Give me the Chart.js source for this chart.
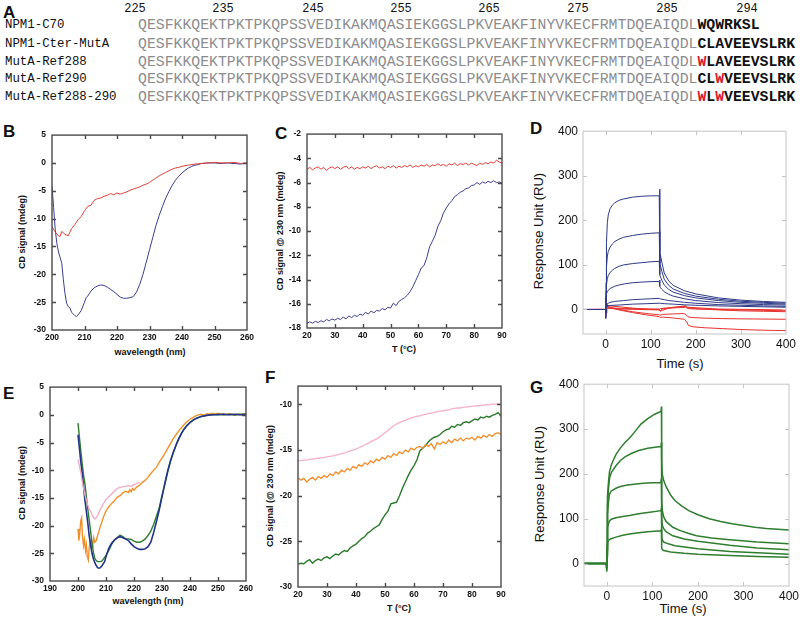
<!DOCTYPE html>
<html>
<head>
<meta charset="utf-8">
<script src="https://cdn.jsdelivr.net/npm/chart.js@4.4.1/dist/chart.umd.min.js"></script>
<style>
body { margin: 0; background: #fff; }
#fig { position: relative; width: 800px; height: 617px; overflow: hidden; font-family: 'Liberation Sans', Arial, sans-serif; color: #111; }
#fig canvas { position: absolute; }
.t { position: absolute; white-space: nowrap; line-height: 1; transform: translate(-50%, -50%); }
.rot { transform: translate(-50%, -50%) rotate(-90deg); }
.letter { position: absolute; font-weight: bold; font-size: 17px; line-height: 1; transform: translateY(-50%); }
.mono { font-family: 'Liberation Mono', 'DejaVu Sans Mono', monospace; }
.seq { position: absolute; white-space: nowrap; line-height: 1; transform: translateY(-50%); font-size: 14.8px; color: #8c8c8c; }
.tail { color: #111; font-weight: bold; }
.red { color: #d42030; }
</style>
</head>
<body>
<div id="fig"></div>
<script>
// ---- Panel A: sequence alignment ----
const seqNumbers = ['225', '235', '245', '255', '265', '275', '285', '294'];
const seqNames = ['NPM1-C70', 'NPM1-Cter-MutA', 'MutA-Ref288', 'MutA-Ref290', 'MutA-Ref288-290'];
const seqCore = 'QESFKKQEKTPKTPKQPSSVEDIKAKMQASIEKGGSLPKVEAKFINYVKECFRMTDQEAIQDL';
const seqTails = ['WQWRKSL', 'CLAVEEVSLRK', 'WLAVEEVSLRK', 'CLWVEEVSLRK', 'WLWVEEVSLRK'];
const seqRed = [[], [], [0], [2], [0, 2]];

// ---- Panel B: CD spectra ----
const bXTicks = [200, 210, 220, 230, 240, 250, 260];
const bYTicks = [-30, -25, -20, -15, -10, -5, 0, 5];
const bRed = [[200,-11.5],[201,-12.4],[202,-13.1],[202.5,-13.2],[203,-12.3],[204,-12.8],[205,-13.1],[206,-11.8],[207,-11.1],[208,-10.2],[209,-9.6],[210,-8.6],[211,-7.8],[212,-7.6],[213,-6.7],[214,-6.4],[215,-6.3],[216,-6.0],[217,-5.8],[218,-5.5],[219,-5.7],[220,-5.4],[221,-5.6],[222,-5.4],[223,-5.2],[224,-4.9],[225,-4.7],[226,-4.5],[227,-4.3],[228,-4.0],[229,-3.8],[230,-3.5],[231,-3.1],[232,-2.7],[233,-2.3],[234,-2.0],[235,-1.7],[236,-1.4],[237,-1.1],[238,-0.9],[239,-0.8],[240,-0.6],[242,-0.4],[244,-0.2],[246,-0.1],[248,0],[250,0.1],[252,0],[254,0],[256,0.1],[258,-0.1],[260,0]];
const bBlue = [[200,-4.2],[200.5,-8],[201,-12],[201.5,-14.5],[202,-16],[203,-18],[203.5,-21],[204,-23.5],[204.5,-25.2],[205,-25.8],[205.5,-26],[206,-26.8],[207,-27.4],[207.5,-27.6],[208,-27.3],[209,-26.5],[210,-25],[210.5,-24.2],[211,-23.9],[212,-23],[213,-22.4],[214,-22.1],[215,-21.9],[216,-22],[217,-22.3],[218,-22.7],[219,-23.1],[220,-23.6],[221,-24.1],[222,-24.3],[223,-24.3],[224,-24.2],[225,-24],[226,-23.2],[227,-21.8],[228,-20],[229,-17.8],[230,-15.6],[231,-13.4],[232,-11.2],[233,-9.4],[234,-7.8],[235,-6.3],[236,-5.1],[237,-4],[238,-3.1],[239,-2.4],[240,-1.8],[241,-1.3],[242,-0.9],[243,-0.6],[244,-0.4],[245,-0.3],[246,-0.1],[248,0],[250,0],[252,-0.1],[254,0],[256,-0.1],[258,-0.2],[260,0]];

// ---- Panels C and F: thermal melts ----
const tempC = [20,21,22,23,24,25,26,27,28,29,30,31,32,33,34,35,36,37,38,39,40,41,42,43,44,45,46,47,48,49,50,51,52,53,54,55,56,57,58,59,60,61,62,63,64,65,66,67,68,69,70,71,72,73,74,75,76,77,78,79,80,81,82,83,84,85,86,87,88,89,90];
const cXTicks = [20, 30, 40, 50, 60, 70, 80, 90];
const cYTicks = [-18, -16, -14, -12, -10, -8, -6, -4, -2];
const cRed = [-4.9,-4.75,-4.95,-4.8,-4.7,-4.9,-4.75,-5.0,-4.8,-4.7,
  -4.85,-4.7,-4.9,-4.75,-4.65,-4.85,-4.7,-4.9,-4.75,-4.85,
  -4.7,-4.8,-4.65,-4.85,-4.7,-4.6,-4.8,-4.7,-4.85,-4.65,
  -4.75,-4.6,-4.8,-4.65,-4.75,-4.6,-4.7,-4.55,-4.75,-4.6,
  -4.7,-4.55,-4.65,-4.5,-4.7,-4.55,-4.6,-4.45,-4.6,-4.5,
  -4.65,-4.45,-4.55,-4.4,-4.6,-4.45,-4.5,-4.4,-4.55,-4.4,
  -4.5,-4.6,-4.4,-4.5,-4.35,-4.45,-4.3,-4.4,-4.15,-4.3,
  -4.4];
const cBlue = [-17.6,-17.5,-17.6,-17.45,-17.55,-17.4,-17.5,-17.3,-17.4,-17.25,
  -17.35,-17.2,-17.3,-17.1,-17.25,-17.0,-17.15,-16.95,-17.05,-16.85,
  -16.95,-16.7,-16.85,-16.6,-16.75,-16.55,-16.6,-16.4,-16.5,-16.3,
  -16.35,-15.95,-16.15,-15.8,-15.65,-15.5,-15.3,-15.0,-14.6,-14.1,
  -13.6,-13.05,-12.85,-12.2,-11.3,-10.85,-10.35,-9.6,-9.15,-8.5,
  -8.1,-7.75,-7.5,-7.15,-7.0,-6.8,-6.7,-6.5,-6.45,-6.25,
  -6.2,-6.0,-6.15,-5.95,-6.05,-5.9,-6.0,-5.85,-6.0,-5.95,
  -6.05];
const fXTicks = [20, 30, 40, 50, 60, 70, 80, 90];
const fYTicks = [-30, -25, -20, -15, -10];
const fPink = [-16.2,-16.15,-16.1,-16.1,-16.0,-16.0,-15.95,-15.9,-15.85,-15.8,
  -15.75,-15.7,-15.65,-15.55,-15.5,-15.4,-15.35,-15.2,-15.1,-15.0,
  -14.9,-14.75,-14.6,-14.45,-14.3,-14.1,-13.95,-13.8,-13.6,-13.35,
  -13.1,-12.85,-12.6,-12.35,-12.15,-12.0,-11.85,-11.75,-11.6,-11.5,
  -11.4,-11.3,-11.25,-11.15,-11.1,-11.0,-10.95,-10.9,-10.8,-10.75,
  -10.7,-10.65,-10.6,-10.5,-10.45,-10.4,-10.4,-10.3,-10.3,-10.25,
  -10.2,-10.2,-10.15,-10.1,-10.1,-10.0,-10.05,-9.95,-10.0,-9.95,
  -10.0];
const fOrange = [-18.0,-18.3,-18.1,-18.5,-18.2,-18.0,-18.3,-17.9,-18.1,-17.8,
  -18.0,-17.6,-17.8,-17.4,-17.6,-17.2,-17.4,-17.0,-17.2,-16.8,
  -17.0,-16.6,-16.8,-16.4,-16.6,-16.2,-16.4,-16.0,-16.2,-15.8,
  -16.0,-15.6,-15.8,-15.4,-15.6,-15.2,-15.4,-15.0,-15.2,-14.8,
  -15.0,-14.7,-14.6,-14.8,-14.4,-14.6,-14.3,-14.9,-14.2,-14.4,
  -14.1,-14.3,-13.9,-14.2,-13.8,-14.0,-13.7,-14.0,-13.7,-13.8,
  -13.6,-13.9,-13.5,-13.7,-13.4,-13.6,-13.3,-13.5,-13.2,-13.1,
  -13.3];
const fGreen = [-27.5,-27.4,-27.45,-27.2,-27.0,-27.4,-27.1,-26.95,-27.1,-26.8,
  -26.7,-26.9,-26.6,-26.4,-26.5,-26.2,-26.0,-26.1,-25.7,-25.5,
  -25.3,-25.0,-24.7,-24.5,-24.1,-23.9,-23.6,-23.4,-23.2,-22.6,
  -22.1,-21.7,-20.9,-20.8,-20.7,-20.0,-19.2,-18.5,-17.8,-17.2,
  -16.7,-16.1,-15.1,-14.8,-14.5,-14.1,-13.8,-13.6,-13.5,-13.3,
  -13.0,-12.8,-12.7,-12.4,-12.5,-12.2,-12.3,-12.0,-11.9,-12.0,
  -11.8,-11.6,-11.7,-11.4,-11.5,-11.3,-11.4,-11.2,-11.1,-10.9,
  -11.3];

// ---- Panel E: CD spectra of mutants ----
const eXTicks = [190, 200, 210, 220, 230, 240, 250, 260];
const eYTicks = [-30, -25, -20, -15, -10, -5, 0, 5];
const eBlue = [[200,-3.6],[200.5,-6],[201,-8.5],[201.5,-10.5],[202,-13],[202.5,-15.5],[203,-17.5],[203.5,-19.5],[204,-21.8],[204.5,-23.5],[205,-25],[205.5,-26],[206,-26.7],[206.5,-27.2],[207,-27.6],[207.5,-27.7],[208,-27.6],[208.5,-27.3],[209,-26.9],[209.5,-26.5],[210,-25.6],[210.5,-24.8],[211,-24.1],[211.5,-23.6],[212,-23.2],[213,-22.6],[214,-22.2],[215,-22.0],[216,-22.2],[217,-22.4],[218,-22.7],[219,-23.3],[220,-23.8],[221,-24.1],[222,-24.3],[223,-24.3],[224,-24.2],[225,-23.8],[226,-23.0],[227,-21.3],[228,-19.3],[229,-17.2],[230,-14.8],[231,-12.4],[232,-10.2],[233,-8.4],[234,-6.8],[235,-5.5],[236,-4.3],[237,-3.3],[238,-2.5],[239,-1.9],[240,-1.4],[241,-1.0],[242,-0.7],[243,-0.5],[244,-0.3],[246,-0.1],[248,0],[250,0],[252,0.1],[254,0],[256,0.1],[258,0],[260,0.1]];
const eGreen = [[200,-1.5],[200.5,-4],[201,-6.5],[201.5,-8.8],[202,-11],[202.5,-12.5],[203,-14.8],[203.5,-17],[204,-19],[204.5,-21],[205,-23.2],[205.5,-24.8],[206,-25.9],[206.5,-26.3],[207,-26.5],[208,-26.5],[208.5,-26.4],[209,-26.1],[210,-25.4],[211,-24.5],[212,-23.4],[213,-22.6],[214,-22.2],[215,-21.7],[216,-22.0],[217,-22.4],[218,-22.4],[219,-22.5],[220,-22.8],[221,-23.0],[222,-23.0],[223,-22.8],[224,-22.4],[225,-21.8],[226,-21.0],[227,-19.8],[228,-18.3],[229,-16.8],[230,-14.6],[231,-12.6],[232,-10.4],[233,-8.4],[234,-6.9],[235,-5.5],[236,-4.3],[237,-3.3],[238,-2.5],[239,-1.9],[240,-1.4],[241,-1.0],[242,-0.7],[243,-0.5],[244,-0.3],[246,-0.1],[248,0],[250,0.1],[252,0],[254,0.1],[256,0],[258,0.1],[260,0]];
const eOrange = [[200,-20.6],[200.3,-22.7],[200.6,-21.5],[201,-19.1],[201.3,-18.6],[201.6,-22],[202,-23.6],[202.3,-22.5],[202.7,-24.5],[203,-23.5],[203.3,-25.5],[203.7,-26.2],[204,-24],[204.3,-23],[204.6,-24],[205,-23],[205.3,-23.4],[205.6,-22.2],[206,-23],[206.5,-22.7],[207,-21.8],[207.5,-21],[208,-20.1],[208.5,-19.4],[209,-18.6],[209.5,-17.9],[210,-17.4],[210.5,-17],[211,-16.6],[211.5,-16.3],[212,-16.0],[213,-15.5],[214,-14.9],[215,-14.6],[216,-14.1],[217,-13.8],[218,-14.0],[218.5,-13.5],[219,-13.9],[219.5,-13.3],[220,-13.6],[221,-13.0],[222,-12.7],[223,-12.2],[224,-11.8],[225,-11.3],[226,-10.6],[227,-10.0],[228,-9.5],[229,-8.6],[230,-7.8],[231,-7.0],[232,-6.1],[233,-5.2],[234,-4.3],[235,-3.6],[236,-2.9],[237,-2.3],[238,-1.7],[239,-1.2],[240,-0.8],[241,-0.5],[242,-0.2],[243,0],[244,0.1],[245,-0.1],[246,0.2],[247,0.1],[248,0.3],[249,0.1],[250,0.3],[251,0.1],[252,0.2],[253,0],[254,0.2],[255,0.1],[256,-0.1],[257,0.1],[258,0],[259,0.2],[260,0.1]];
const ePink = [[200,-8.1],[200.5,-9.2],[201,-10.5],[201.5,-12],[202,-13.3],[202.5,-14.5],[203,-15.4],[203.5,-16.3],[204,-17.0],[204.5,-17.4],[205,-18.0],[205.5,-18.5],[206,-18.8],[206.5,-18.6],[207,-18.2],[207.5,-17.6],[208,-17.1],[208.5,-16.6],[209,-16.1],[209.5,-15.7],[210,-15.3],[211,-14.8],[212,-14.3],[213,-13.8],[214,-13.3],[215,-13.1],[216,-13.0],[217,-12.9],[218,-12.8],[219,-12.9],[220,-12.6],[221,-12.4],[222,-12.2]];

// ---- Panels D and G: SPR sensorgrams ----
const sprXTicks = [0, 100, 200, 300, 400];
const sprYTicks = [0, 100, 200, 300, 400];
const dBlue = [
  [[-50,0],[-20,0],[0,0],[0.5,-20],[1,60],[2,150],[4,195],[6,212],[10,226],[15,234],[20,239],[30,245],[40,248],[60,252],[80,254],[100,255],[119,255],[120,270],[120.5,130],[121,125],[125,105],[130,82],[140,64],[150,54],[175,42],[200,35],[250,26],[300,21],[350,18],[400,16]],
  [[-50,0],[0,0],[0.5,-10],[1,40],[2,95],[4,120],[6,130],[10,140],[15,147],[20,152],[30,158],[40,162],[60,166],[80,169],[100,171],[119,172],[120,175],[120.5,104],[121,100],[125,85],[130,68],[140,54],[150,46],[175,36],[200,30],[250,23],[300,18.5],[350,16],[400,14]],
  [[-50,0],[0,0],[0.5,-5],[1,30],[2,55],[4,70],[6,76],[10,83],[15,88],[20,92],[30,97],[40,100],[60,103],[80,105],[100,107],[119,108],[120,122],[120.5,78],[121,75],[125,65],[130,55],[140,45],[150,39],[175,31],[200,26],[250,20],[300,16],[350,14],[400,12]],
  [[-50,0],[0,0],[0.5,-3],[1,20],[2,35],[4,40],[6,43],[10,47],[20,52],[30,55],[45,58],[60,60],[80,61.5],[100,62.5],[119,63],[120,66],[120.5,52],[121,50],[125,45],[130,40],[140,34],[150,30],[175,24],[200,20],[250,15.5],[300,13],[350,11],[400,10]],
  [[-50,0],[0,0],[1,8],[3,12],[6,14],[10,16],[20,18],[40,20],[60,22],[80,23],[100,24],[119,25],[121,24],[125,23],[130,22],[140,20],[150,19],[175,16],[200,14],[250,11],[300,9.5],[350,8],[400,7]],
  [[-50,0],[0,0],[1,5],[3,8],[10,9],[30,10],[60,12],[90,13],[119,14],[121,14],[125,13.5],[130,13],[140,12.5],[150,12],[175,10.5],[200,9.5],[250,8],[300,7],[350,6],[400,5]]
];
const dRed = [
  [[-50,0],[-10,0.5],[0,0],[0.5,-15],[1,25],[2,8],[5,4],[20,3],[60,2],[100,1],[119,1],[121,-3],[125,1],[140,3],[160,4],[178,5],[182,2],[200,1],[250,0],[300,-1],[350,-2],[400,-3]],
  [[-50,0],[0,0],[1,12],[3,9],[10,8],[30,6],[60,3],[90,1],[119,0],[121,-4],[126,-2],[140,3],[160,6],[178,8],[182,4],[200,2],[250,-1],[300,-3],[350,-4],[400,-5]],
  [[-50,0],[0,0],[1,10],[3,7],[10,5],[30,0],[60,-5],[90,-9],[119,-12],[121,-13],[126,-11],[150,-10],[172,-9],[178,-11],[182,-16],[190,-18],[220,-19.5],[260,-20.5],[300,-21],[400,-22]],
  [[-50,0],[0,0],[1,10],[3,6],[10,4],[30,-1],[60,-7],[90,-12],[119,-16],[121,-18],[126,-17],[150,-19],[175,-22],[180,-28],[184,-36],[195,-39],[220,-41],[260,-43],[300,-45],[350,-46.5],[400,-47.5]],
  [[-50,0],[0,0],[1,-8],[3,3],[30,1],[119,-1],[121,2],[150,5],[178,7],[182,5],[250,1],[400,-1]]
];
const gGreen = [
  [[-50,0],[-1,0],[0,-18],[0.5,30],[1,100],[2,150],[4,185],[6,205],[10,220],[15,232],[20,243],[30,258],[40,270],[50,280],[60,292],[75,311],[90,323],[105,333],[119,339],[120,350],[120.5,230],[122,198],[125,185],[130,172],[140,153],[150,140],[165,128],[180,118],[200,109],[225,100],[250,94],[275,89],[300,85],[325,81],[350,78],[375,76.5],[400,75]],
  [[-50,0],[-1,0],[0,-15],[0.5,40],[1,90],[2,130],[4,170],[6,190],[10,203],[20,218],[30,230],[40,238],[55,246],[70,252],[90,257],[110,260],[119,261],[120,270],[120.5,140],[122,118],[125,104],[130,94],[145,81],[160,74],[180,67],[197,62],[230,57],[270,53],[330,48],[400,44]],
  [[-50,0],[-1,0],[0,-12],[0.5,30],[1,80],[2,110],[4,140],[6,155],[10,162],[20,168],[30,172],[45,175],[60,177],[80,179],[100,180],[119,181],[120,190],[120.5,100],[122,85],[125,78],[130,71],[145,62],[170,55],[200,50],[270,41],[330,35],[400,31]],
  [[-50,0],[-1,0],[0,-10],[0.5,20],[1,60],[2,80],[4,90],[6,95],[10,99],[20,102],[35,105],[50,107],[70,111],[90,114],[119,118],[120,125],[120.5,60],[122,52],[125,48],[135,44],[150,40],[200,33],[270,27],[330,24],[400,21]],
  [[-50,0],[-1,0],[0,-8],[0.5,15],[1,40],[2,48],[4,52],[8,55],[20,59],[35,63],[50,66],[70,69],[90,71],[119,73],[120,76],[120.5,35],[122,31],[125,29],[140,26],[170,23],[200,21],[270,18],[330,16],[400,14]]
];

const fig = document.getElementById('fig');
const MONO = "'Liberation Mono', 'DejaVu Sans Mono', monospace";
const SANS = "'Liberation Sans', Arial, sans-serif";

// Draws the box frame with inward tick marks on all four sides
const frameTicks = {
  id: 'frameTicks',
  afterDraw(chart, args, opts) {
    const { ctx, chartArea: a, scales: { x, y } } = chart;
    ctx.save();
    ctx.strokeStyle = opts.color;
    ctx.lineWidth = opts.width;
    ctx.strokeRect(a.left, a.top, a.right - a.left, a.bottom - a.top);
    ctx.beginPath();
    x.ticks.forEach(t => {
      const px = Math.round(x.getPixelForValue(t.value)) + 0.5;
      if (px <= a.left + 1 || px >= a.right - 1) return;
      ctx.moveTo(px, a.bottom); ctx.lineTo(px, a.bottom - opts.len);
      ctx.moveTo(px, a.top); ctx.lineTo(px, a.top + opts.len);
    });
    y.ticks.forEach(t => {
      const py = Math.round(y.getPixelForValue(t.value)) + 0.5;
      if (py <= a.top + 1 || py >= a.bottom - 1) return;
      ctx.moveTo(a.left, py); ctx.lineTo(a.left + opts.len, py);
      ctx.moveTo(a.right, py); ctx.lineTo(a.right - opts.len, py);
    });
    ctx.stroke();
    ctx.restore();
  }
};

// Positioned text helper
function addText(html, x, y, css, cls) {
  const el = document.createElement('div');
  el.className = cls || 't';
  el.innerHTML = html;
  el.style.left = x + 'px';
  el.style.top = y + 'px';
  Object.assign(el.style, css || {});
  fig.appendChild(el);
  return el;
}

function pairs(list) {
  return list.map(p => ({ x: p[0], y: p[1] }));
}

function zipTemp(values) {
  return values.map((v, i) => ({ x: tempC[i], y: v }));
}

function line(data, color, width) {
  return { data, borderColor: color, borderWidth: width, showLine: true, pointRadius: 0, tension: 0, fill: false };
}

// Build one plot panel so that its plot area lands on the given box
function makePanel(box, xr, yr, xt, yt, style, datasets) {
  const axW = 40, axH = 25, padT = 10, padR = 16;
  const canvas = document.createElement('canvas');
  const w = box.r - box.l + axW + padR;
  const h = box.b - box.t + padT + axH;
  canvas.width = w; canvas.height = h;
  canvas.style.left = (box.l - axW) + 'px';
  canvas.style.top = (box.t - padT) + 'px';
  canvas.style.width = w + 'px';
  canvas.style.height = h + 'px';
  fig.appendChild(canvas);

  const cd = style === 'cd';
  const font = cd ? { family: SANS, size: 8.5, weight: 'bold' } : { family: SANS, size: 12 };
  const common = {
    type: 'linear',
    grid: { display: false, drawTicks: false },
    border: { display: false }
  };
  new Chart(canvas, {
    type: 'scatter',
    data: { datasets },
    options: {
      responsive: false,
      animation: false,
      devicePixelRatio: 1,
      layout: { padding: { left: 0, right: padR, top: padT, bottom: 0 } },
      plugins: {
        legend: { display: false },
        tooltip: { enabled: false },
        frameTicks: cd ? { color: '#4a4a4a', width: 1.4, len: 4 } : { color: '#c4c4c4', width: 1, len: 4 }
      },
      scales: {
        x: Object.assign({}, common, {
          min: xr[0], max: xr[1],
          afterBuildTicks: s => { s.ticks = xt.map(v => ({ value: v })); },
          afterFit: s => { s.height = axH; },
          ticks: { font, color: '#111', padding: 3, maxRotation: 0, autoSkip: false }
        }),
        y: Object.assign({}, common, {
          min: yr[0], max: yr[1],
          afterBuildTicks: s => { s.ticks = yt.map(v => ({ value: v })); },
          afterFit: s => { s.width = axW; },
          ticks: { font, color: '#111', padding: cd ? 6 : 5, autoSkip: false }
        })
      }
    },
    plugins: [frameTicks]
  });
}

// ---- Panel A ----
addText('A', 3, 12, {}, 'letter');
const numX = [135, 223, 313, 401, 489, 578, 667, 747];
seqNumbers.forEach((n, i) => addText(n, numX[i], 9, { fontFamily: MONO, fontSize: '12px' }));
const rowY = [25, 44, 62, 79, 97];
seqNames.forEach((name, i) => {
  addText(name, 5, rowY[i], { fontFamily: MONO, fontSize: '12.4px', transform: 'translateY(-50%)' });
  let tail = '';
  for (let k = 0; k < seqTails[i].length; k++) {
    const ch = seqTails[i][k];
    tail += seqRed[i].includes(k) ? `<span class="red">${ch}</span>` : ch;
  }
  addText(`${seqCore}<span class="tail">${tail}</span>`, 138, rowY[i], {}, 'seq mono');
});

// ---- Panel letters and axis titles ----
addText('B', 3, 131, {}, 'letter');
addText('C', 275, 133, {}, 'letter');
addText('D', 530, 128, {}, 'letter');
addText('E', 3, 393, {}, 'letter');
addText('F', 265, 377, {}, 'letter');
addText('G', 530, 387, {}, 'letter');

const cdTitle = { fontWeight: 'bold', fontSize: '9px' };
const sprTitle = { fontSize: '13px' };
addText('CD signal (mdeg)', 22, 232, cdTitle, 't rot');
addText('wavelength (nm)', 150, 352, cdTitle);
addText('CD signal @ 230 nm (mdeg)', 280, 231, cdTitle, 't rot');
addText('T (°C)', 404, 349, cdTitle);
addText('Response Unit (RU)', 538, 231, sprTitle, 't rot');
addText('Time (s)', 680, 363, sprTitle);
addText('CD signal (mdeg)', 22, 483, cdTitle, 't rot');
addText('wavelength (nm)', 148, 601, cdTitle);
addText('CD signal (@ 230 nm (mdeg)', 270, 486, cdTitle, 't rot');
addText('T (°C)', 399, 608, cdTitle);
addText('Response Unit (RU)', 539, 484, sprTitle, 't rot');
addText('Time (s)', 683, 608, sprTitle);

// ---- Plot panels ----
makePanel({ l: 52, t: 134, r: 247, b: 330 }, [200, 260], [-30, 5], bXTicks, bYTicks, 'cd', [
  line(pairs(bRed), '#e0403a', 1),
  line(pairs(bBlue), '#3a3f8f', 1)
]);
makePanel({ l: 307, t: 133, r: 502, b: 328 }, [20, 90], [-18, -2], cXTicks, cYTicks, 'cd', [
  line(zipTemp(cRed), '#e0403a', 1),
  line(zipTemp(cBlue), '#3a3f8f', 1)
]);
makePanel({ l: 583, t: 129, r: 786, b: 334 }, [-50, 400], [-55, 400], sprXTicks, sprYTicks, 'spr',
  dBlue.map(s => line(pairs(s), '#2e3a87', 1)).concat(dRed.map(s => line(pairs(s), '#e8322e', 1)))
);
makePanel({ l: 50, t: 386, r: 246, b: 581 }, [190, 260], [-30, 5], eXTicks, eYTicks, 'cd', [
  line(pairs(ePink), '#f2a9c4', 1.3),
  line(pairs(eBlue), '#23348a', 1.6),
  line(pairs(eGreen), '#2e7d32', 1.4),
  line(pairs(eOrange), '#f0922a', 1.4)
]);
makePanel({ l: 298, t: 385, r: 501, b: 587 }, [20, 90], [-30, -8], fXTicks, fYTicks, 'cd', [
  line(zipTemp(fPink), '#f4b0c8', 1.3),
  line(zipTemp(fOrange), '#f28c28', 1.3),
  line(zipTemp(fGreen), '#2a7a2a', 1.4)
]);
makePanel({ l: 584, t: 382, r: 789, b: 586 }, [-50, 400], [-50, 400], sprXTicks, sprYTicks, 'spr',
  gGreen.map(s => line(pairs(s), '#2f7d2f', 1.5))
);
</script>
</body>
</html>
